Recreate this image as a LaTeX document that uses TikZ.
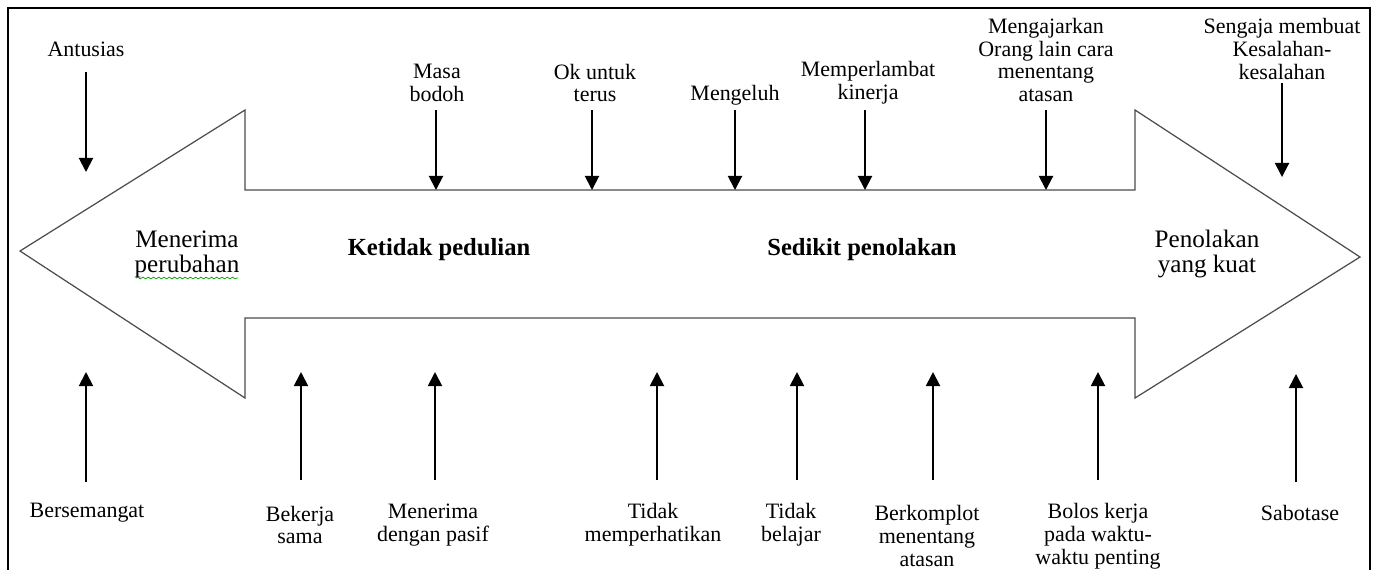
\documentclass[tikz,border=0pt]{standalone}
\usepackage{fontspec}
\setmainfont{Liberation Serif}
\usetikzlibrary{arrows.meta,decorations.pathmorphing}
\begin{document}
\begin{tikzpicture}[x=0.02cm,y=-0.02cm,
  lab/.style={align=center,inner sep=0pt,font=\fontsize{12.5}{13}\selectfont},
  inlab/.style={align=center,inner sep=0pt,font=\fontsize{14.3}{14.3}\selectfont},
  big/.style={align=center,inner sep=0pt,font=\fontsize{14}{15}\selectfont\bfseries},
  arr/.style={line width=1.1pt,-{Triangle[width=8pt,length=8pt]}},
  dblarrow/.style={draw=black!70,line width=0.7pt,line join=miter},
  frame/.style={line width=1.4pt}]
\useasboundingbox (0,0) rectangle (1378,569);
\draw[frame] (8,575) -- (8,8) -- (1370,8) -- (1370,575);
% double arrow
\draw[dblarrow] (20,251) -- (245,110) -- (245,190) -- (1135,190) -- (1135,110) -- (1360,257)
  -- (1135,398) -- (1135,318) -- (245,318) -- (245,398) -- cycle;
% inner labels
\node[inlab] (mp) at (187,254) {Menerima\\perubahan};
\draw[green!60!black,line width=0.4pt,decorate,decoration={snake,segment length=3pt,amplitude=0.5pt}] (136,278) -- (238,278);
\node[big] (kp) at (439,250) {Ketidak pedulian};
\node[big] (sp) at (862,250) {Sedikit penolakan};
\node[inlab] (pk) at (1207,254) {Penolakan\\yang kuat};
% top labels
\node[lab] (t1) at (86,49) {Antusias};
\node[lab] (t2) at (437,83) {Masa\\bodoh};
\node[lab] (t3) at (595,83) {Ok untuk\\terus};
\node[lab] (t4) at (735,95) {Mengeluh};
\node[lab] (t5) at (868,83) {Memperlambat\\kinerja};
\node[lab] (t6) at (1046,60) {Mengajarkan\\Orang lain cara\\menentang\\atasan};
\node[lab] (t7) at (1282,49) {Sengaja membuat\\Kesalahan-\\kesalahan};
\coordinate (t1a) at (86,72);  \coordinate (t1b) at (86,172);
\coordinate (t2a) at (436,110); \coordinate (t2b) at (436,190);
\coordinate (t3a) at (592,110); \coordinate (t3b) at (592,190);
\coordinate (t4a) at (735,110); \coordinate (t4b) at (735,190);
\coordinate (t5a) at (865,110); \coordinate (t5b) at (865,190);
\coordinate (t6a) at (1046,110); \coordinate (t6b) at (1046,190);
\coordinate (t7a) at (1282,83); \coordinate (t7b) at (1282,177);
\foreach \i in {1,...,7} {\draw[arr] (t\i a) -- (t\i b);}
% bottom labels
\node[lab] (b1) at (87,513) {Bersemangat};
\node[lab] (b2) at (300,525) {Bekerja\\sama};
\node[lab] (b3) at (433,525) {Menerima\\dengan pasif};
\node[lab] (b4) at (653,525) {Tidak\\memperhatikan};
\node[lab] (b5) at (791,525) {Tidak\\belajar};
\node[lab] (b6) at (927,536) {Berkomplot\\menentang\\atasan};
\node[lab] (b7) at (1098,536) {Bolos kerja\\pada waktu-\\waktu penting};
\node[lab] (b8) at (1300,513) {Sabotase};
\coordinate (b1a) at (86,482);  \coordinate (b1b) at (86,372);
\coordinate (b2a) at (301,480); \coordinate (b2b) at (301,372);
\coordinate (b3a) at (435,480); \coordinate (b3b) at (435,372);
\coordinate (b4a) at (657,480); \coordinate (b4b) at (657,372);
\coordinate (b5a) at (797,480); \coordinate (b5b) at (797,372);
\coordinate (b6a) at (933,480); \coordinate (b6b) at (933,372);
\coordinate (b7a) at (1098,480); \coordinate (b7b) at (1098,372);
\coordinate (b8a) at (1296,482); \coordinate (b8b) at (1296,374);
\foreach \i in {1,...,8} {\draw[arr] (b\i a) -- (b\i b);}
\end{tikzpicture}
\end{document}
